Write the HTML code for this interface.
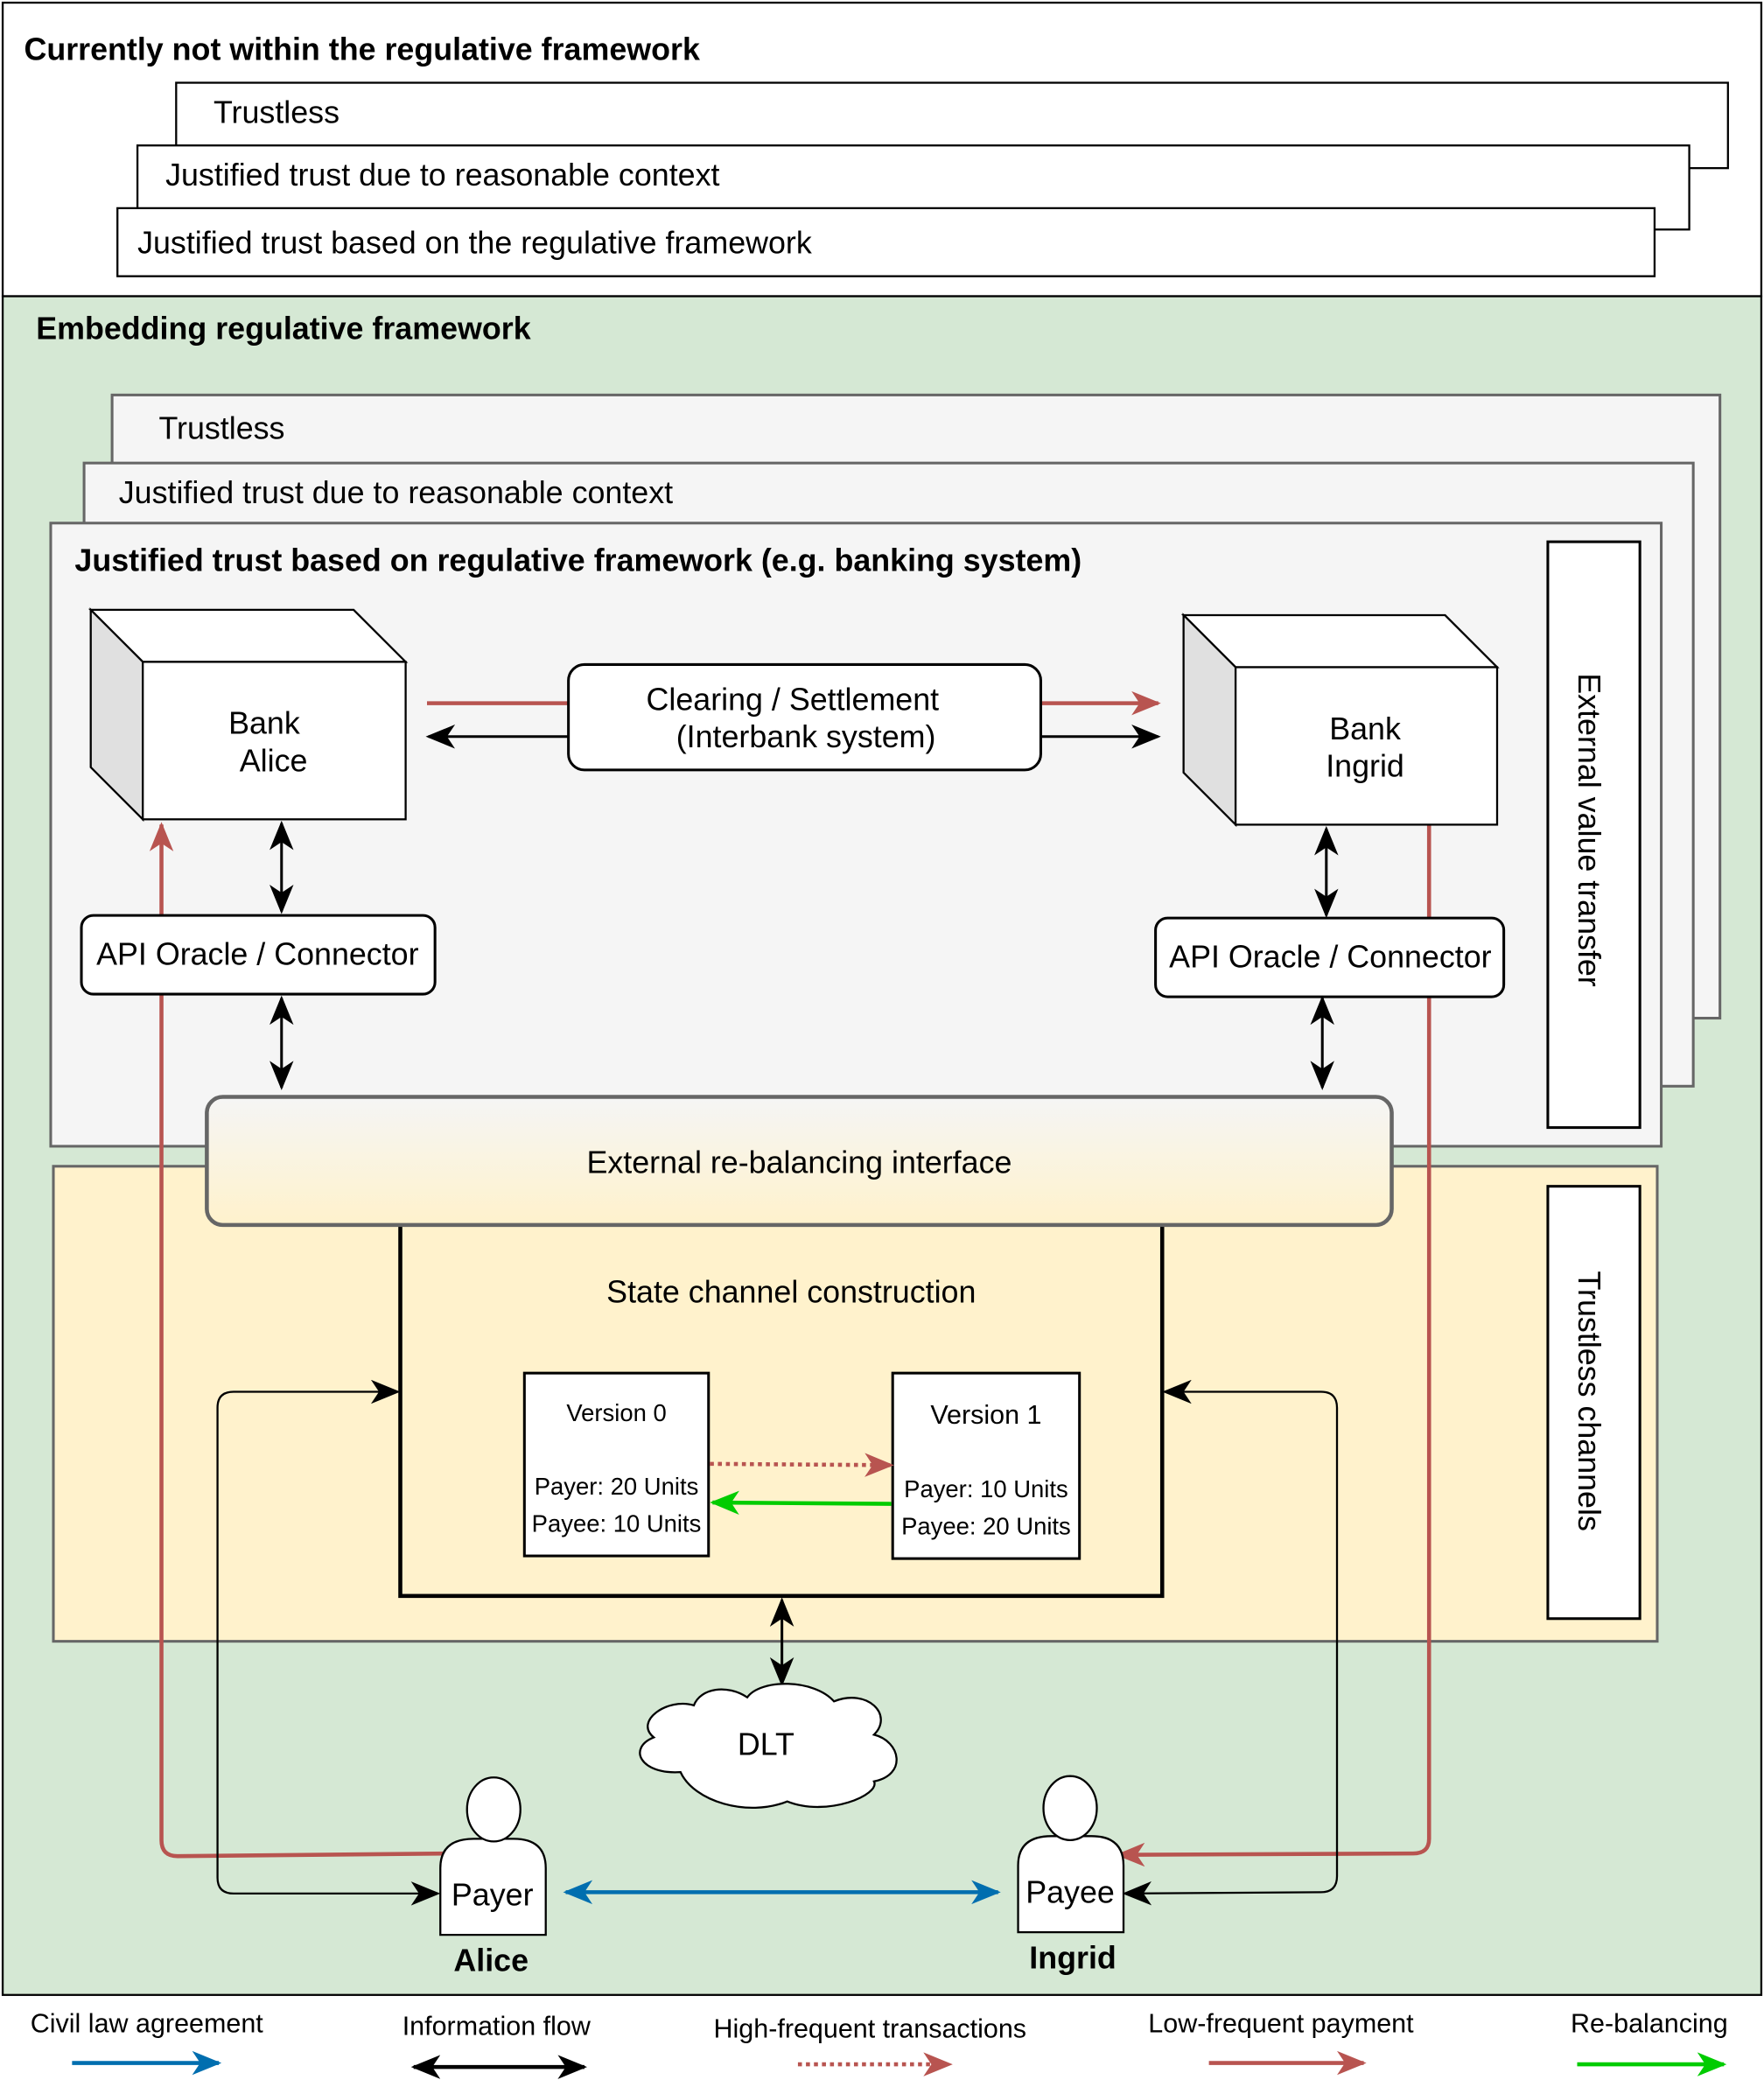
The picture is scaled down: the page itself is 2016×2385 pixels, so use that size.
<!DOCTYPE html>
<html><head><meta charset="utf-8"><style>
html,body{margin:0;padding:0;background:#fff;}
svg{display:block;}
text{font-family:"Liberation Sans",sans-serif;fill:#000;}
</style></head><body>
<svg width="2016" height="2385" viewBox="0 0 1322 1564" xmlns="http://www.w3.org/2000/svg">
<defs>
<marker id="ar" markerWidth="22" markerHeight="18" refX="20" refY="9" orient="auto-start-reverse" markerUnits="userSpaceOnUse"><path d="M0,0 L22,9 L0,18 L6,9 Z" fill="#b85450"/></marker>
<marker id="ag" markerWidth="22" markerHeight="18" refX="20" refY="9" orient="auto-start-reverse" markerUnits="userSpaceOnUse"><path d="M0,0 L22,9 L0,18 L6,9 Z" fill="#00cc00"/></marker>
<marker id="abl" markerWidth="22" markerHeight="18" refX="20" refY="9" orient="auto-start-reverse" markerUnits="userSpaceOnUse"><path d="M0,0 L22,9 L0,18 L6,9 Z" fill="#006eaf"/></marker>
<marker id="abk" markerWidth="22" markerHeight="18" refX="20" refY="9" orient="auto-start-reverse" markerUnits="userSpaceOnUse"><path d="M0,0 L22,9 L0,18 L6,9 Z" fill="#000"/></marker>
<linearGradient id="gr" x1="0" y1="0" x2="0" y2="1"><stop offset="0" stop-color="#f5f5f5"/><stop offset="1" stop-color="#fff2cc"/></linearGradient>
</defs>

<rect x="2" y="2" width="1318" height="220" fill="#fff" stroke="#000" stroke-width="1.5"/>
<text x="18" y="45" font-size="23.5" font-weight="bold">Currently not within the regulative framework</text>
<rect x="132" y="62" width="1163" height="64" fill="#fff" stroke="#000" stroke-width="1.5"/>
<text x="160" y="92" font-size="23.5">Trustless</text>
<rect x="103" y="109" width="1163" height="63" fill="#fff" stroke="#000" stroke-width="1.5"/>
<text x="124" y="139" font-size="23.5">Justified trust due to reasonable context</text>
<rect x="88" y="156" width="1152" height="51" fill="#fff" stroke="#000" stroke-width="1.5"/>
<text x="103" y="190" font-size="23.5">Justified trust based on the regulative framework</text>

<rect x="2" y="222" width="1318" height="1273" fill="#d5e8d4" stroke="#000" stroke-width="1.5"/>
<text x="27" y="254" font-size="23.5" font-weight="bold">Embedding regulative framework</text>

<rect x="84" y="296" width="1205" height="467" fill="#f5f5f5" stroke="#666" stroke-width="2"/>
<text x="119" y="329" font-size="23.5">Trustless</text>
<rect x="63" y="347" width="1206" height="467" fill="#f5f5f5" stroke="#666" stroke-width="2"/>
<text x="89" y="377" font-size="23.5">Justified trust due to reasonable context</text>
<rect x="38" y="392" width="1207" height="467" fill="#f5f5f5" stroke="#666" stroke-width="2"/>
<text x="56" y="428" font-size="23.5" font-weight="bold">Justified trust based on regulative framework (e.g. banking system)</text>

<rect x="1160" y="406" width="69" height="439" fill="#fff" stroke="#000" stroke-width="2"/>
<text transform="translate(1183,622) rotate(90)" font-size="23.5" text-anchor="middle">External value transfer</text>

<rect x="40" y="874" width="1202" height="356" fill="#fff2cc" stroke="#666" stroke-width="2"/>
<rect x="1160" y="889" width="69" height="324" fill="#fff" stroke="#000" stroke-width="2"/>
<text transform="translate(1183,1050) rotate(90)" font-size="23.5" text-anchor="middle">Trustless channels</text>

<!-- red connectors (behind boxes) -->
<path d="M336,1389 L133,1391 Q121,1391 121,1379 L121,618" fill="none" stroke="#b85450" stroke-width="3" marker-end="url(#ar)"/>
<path d="M1071,618 L1071,1378 Q1071,1389 1059,1389 L838,1390" fill="none" stroke="#b85450" stroke-width="3" marker-end="url(#ar)"/>

<polygon points="68,457 265,457 304,496 107,496" fill="#fff" stroke="#000" stroke-width="1.5"/>
<polygon points="68,457 107,496 107,614 68,575" fill="#e0e0e0" stroke="#000" stroke-width="1.5"/>
<rect x="107" y="496" width="197" height="118" fill="#fff" stroke="#000" stroke-width="1.5"/>
<text x="198" y="550" font-size="23.5" text-anchor="middle">Bank</text>
<text x="205" y="578" font-size="23.5" text-anchor="middle">Alice</text>

<polygon points="887,461 1083,461 1122,500 926,500" fill="#fff" stroke="#000" stroke-width="1.5"/>
<polygon points="887,461 926,500 926,618 887,579" fill="#e0e0e0" stroke="#000" stroke-width="1.5"/>
<rect x="926" y="500" width="196" height="118" fill="#fff" stroke="#000" stroke-width="1.5"/>
<text x="1023" y="554" font-size="23.5" text-anchor="middle">Bank</text>
<text x="1023" y="582" font-size="23.5" text-anchor="middle">Ingrid</text>

<line x1="320" y1="527" x2="426" y2="527" stroke="#b85450" stroke-width="3"/>
<line x1="780" y1="527" x2="868" y2="527" stroke="#b85450" stroke-width="3" marker-end="url(#ar)"/>
<line x1="426" y1="552" x2="321" y2="552" stroke="#000" stroke-width="2" marker-end="url(#abk)"/>
<line x1="780" y1="552" x2="868" y2="552" stroke="#000" stroke-width="2" marker-end="url(#abk)"/>
<rect x="426" y="498" width="354" height="79" rx="12" fill="#fff" stroke="#000" stroke-width="2"/>
<text x="594" y="532" font-size="23.5" text-anchor="middle">Clearing / Settlement</text>
<text x="604" y="560" font-size="23.5" text-anchor="middle">(Interbank system)</text>

<rect x="61" y="686" width="265" height="59" rx="9" fill="#fff" stroke="#000" stroke-width="2"/>
<text x="193" y="723" font-size="23.5" text-anchor="middle">API Oracle / Connector</text>
<rect x="866" y="688" width="261" height="59" rx="9" fill="#fff" stroke="#000" stroke-width="2"/>
<text x="997" y="725" font-size="23.5" text-anchor="middle">API Oracle / Connector</text>

<g stroke="#000" stroke-width="2">
<line x1="211" y1="617" x2="211" y2="683" marker-start="url(#abk)" marker-end="url(#abk)"/>
<line x1="211" y1="748" x2="211" y2="815" marker-start="url(#abk)" marker-end="url(#abk)"/>
<line x1="994" y1="621" x2="994" y2="686" marker-start="url(#abk)" marker-end="url(#abk)"/>
<line x1="991" y1="748" x2="991" y2="815" marker-start="url(#abk)" marker-end="url(#abk)"/>
</g>

<rect x="300" y="910" width="571" height="286" fill="none" stroke="#000" stroke-width="3"/>
<rect x="155" y="822" width="888" height="96" rx="12" fill="url(#gr)" stroke="#666" stroke-width="3"/>
<text x="599" y="879" font-size="23.5" text-anchor="middle">External re-balancing interface</text>
<text x="593" y="976" font-size="23.5" text-anchor="middle">State channel construction</text>

<rect x="393" y="1029" width="138" height="137" fill="#fff" stroke="#000" stroke-width="2"/>
<text x="462" y="1065" font-size="18" text-anchor="middle">Version 0</text>
<text x="462" y="1120" font-size="18" text-anchor="middle">Payer: 20 Units</text>
<text x="462" y="1148" font-size="18" text-anchor="middle">Payee: 10 Units</text>
<rect x="669" y="1029" width="140" height="139" fill="#fff" stroke="#000" stroke-width="2"/>
<text x="739" y="1067" font-size="20" text-anchor="middle">Version 1</text>
<text x="739" y="1122" font-size="18" text-anchor="middle">Payer: 10 Units</text>
<text x="739" y="1150" font-size="18" text-anchor="middle">Payee: 20 Units</text>
<line x1="532" y1="1097" x2="668" y2="1098" stroke="#b85450" stroke-width="3" stroke-dasharray="3,3" marker-end="url(#ar)"/>
<line x1="668" y1="1127" x2="534" y2="1126" stroke="#00cc00" stroke-width="3" marker-end="url(#ag)"/>

<line x1="586" y1="1199" x2="586" y2="1262" stroke="#000" stroke-width="2" marker-start="url(#abk)" marker-end="url(#abk)"/>

<path d="M520,1278 C500,1272 475,1290 490,1302 C470,1310 480,1330 510,1328 C520,1350 560,1362 590,1350 C620,1362 660,1345 655,1335 C680,1330 675,1305 655,1300 C670,1285 650,1265 625,1275 C610,1258 570,1258 560,1272 C545,1262 525,1265 520,1278 Z" fill="#fff" stroke="#000" stroke-width="1.5"/>
<text x="574" y="1315" font-size="23.5" text-anchor="middle">DLT</text>

<path d="M328,1419 L175,1419 Q163,1419 163,1407 L163,1055 Q163,1043 175,1043 L298,1043" fill="none" stroke="#000" stroke-width="1.5" marker-start="url(#abk)" marker-end="url(#abk)"/>
<path d="M873,1043 L990,1043 Q1002,1043 1002,1055 L1002,1406 Q1002,1418 990,1418 L843,1419" fill="none" stroke="#000" stroke-width="1.5" marker-start="url(#abk)" marker-end="url(#abk)"/>
<line x1="424" y1="1418" x2="748" y2="1418" stroke="#006eaf" stroke-width="3" marker-start="url(#abl)" marker-end="url(#abl)"/>

<path d="M330,1450 L330,1400 Q330,1378 355,1378 L385,1378 Q409,1378 409,1400 L409,1450 Z" fill="#fff" stroke="#000" stroke-width="1.5"/>
<ellipse cx="370" cy="1356" rx="20" ry="24" fill="#fff" stroke="#000" stroke-width="1.5"/>
<text x="369" y="1428" font-size="23.5" text-anchor="middle">Payer</text>
<text x="368" y="1477" font-size="23.5" font-weight="bold" text-anchor="middle">Alice</text>
<path d="M763,1448 L763,1398 Q763,1376 788,1376 L818,1376 Q842,1376 842,1398 L842,1448 Z" fill="#fff" stroke="#000" stroke-width="1.5"/>
<ellipse cx="802" cy="1355" rx="20" ry="24" fill="#fff" stroke="#000" stroke-width="1.5"/>
<text x="802" y="1426" font-size="23.5" text-anchor="middle">Payee</text>
<text x="804" y="1475" font-size="23.5" font-weight="bold" text-anchor="middle">Ingrid</text>

<text x="110" y="1523" font-size="20" text-anchor="middle">Civil law agreement</text>
<line x1="54" y1="1546" x2="164" y2="1546" stroke="#006eaf" stroke-width="3" marker-end="url(#abl)"/>
<text x="372" y="1525" font-size="20" text-anchor="middle">Information flow</text>
<line x1="310" y1="1549" x2="438" y2="1549" stroke="#000" stroke-width="3" marker-start="url(#abk)" marker-end="url(#abk)"/>
<text x="652" y="1527" font-size="20" text-anchor="middle">High-frequent transactions</text>
<line x1="598" y1="1547" x2="712" y2="1547" stroke="#b85450" stroke-width="3" stroke-dasharray="3,3" marker-end="url(#ar)"/>
<text x="960" y="1523" font-size="20" text-anchor="middle">Low-frequent payment</text>
<line x1="906" y1="1546" x2="1022" y2="1546" stroke="#b85450" stroke-width="3" marker-end="url(#ar)"/>
<text x="1236" y="1523" font-size="20" text-anchor="middle">Re-balancing</text>
<line x1="1182" y1="1547" x2="1292" y2="1547" stroke="#00cc00" stroke-width="3" marker-end="url(#ag)"/>
</svg>
</body></html>
